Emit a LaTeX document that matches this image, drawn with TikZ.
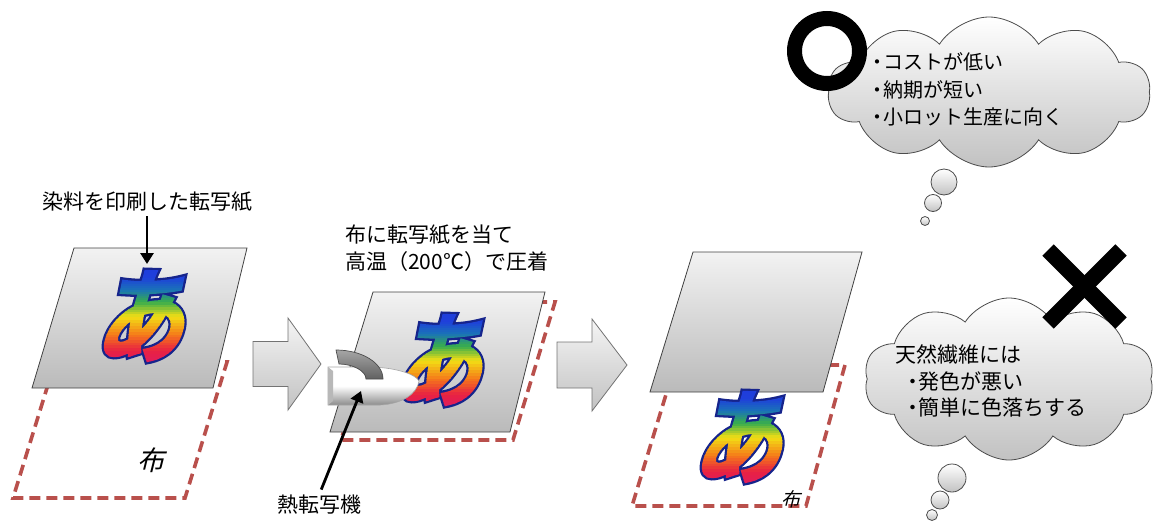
\documentclass[tikz,border=0pt]{standalone}
\usepackage{fontspec}
\setmainfont{Noto Sans CJK JP}
\newfontfamily\jp{Noto Sans CJK JP}
\newfontfamily\glyphfont{Noto Sans CJK JP}[FakeSlant=0.22, FakeStretch=0.86]
\newfontfamily\clothfont{Noto Sans CJK JP}[FakeSlant=0.25]
\usetikzlibrary{shapes.symbols, arrows.meta}

\definecolor{clothred}{RGB}{185,80,76}
\definecolor{glyphnavy}{RGB}{22,36,140}

% horizontal colour bands (PDF operators, baseline-relative, in bp) for the printed character
\newcommand\bandcode{}
\foreach \ya/\yb/\ra/\ga/\ba/\rb/\gb/\bb in {%
  -14/4/0.86/0.10/0.42/0.91/0.13/0.26,
  4/20/0.91/0.13/0.26/0.96/0.48/0.10,
  20/38/0.96/0.48/0.10/0.95/0.87/0.08,
  38/52/0.95/0.87/0.08/0.22/0.68/0.30,
  52/64/0.22/0.68/0.30/0.10/0.45/0.72,
  64/76/0.10/0.45/0.72/0.12/0.25/0.86,
  76/96/0.12/0.25/0.86/0.12/0.22/0.86}{%
  \foreach \m in {0,...,5}{%
    \pgfmathsetmacro\bandy{\ya+(\yb-\ya)*\m/6}%
    \pgfmathsetmacro\bandh{(\yb-\ya)/6+0.4}%
    \pgfmathsetmacro\bandr{\ra+(\rb-\ra)*(\m+0.5)/6}%
    \pgfmathsetmacro\bandg{\ga+(\gb-\ga)*(\m+0.5)/6}%
    \pgfmathsetmacro\bandb{\ba+(\bb-\ba)*(\m+0.5)/6}%
    \xdef\bandcode{\bandcode\space\bandr\space\bandg\space\bandb\space rg -120 \bandy\space 150 \bandh\space re f}%
  }%
}

% character filled and stroked in navy and used as clip, then painted with the bands
\newcommand\rainbowtext[1]{%
  \special{pdf:literal direct q 4.6 w 6 Tr}#1\special{pdf:content\bandcode}\special{pdf:literal direct Q}}

% narrow bullet
\newcommand\dotmark{\makebox[11pt][c]{・}}

\begin{document}
\begin{tikzpicture}[x=1pt, y=-1pt,
  paper/.style={draw=black!75, line width=0.8pt, top color=black!5, bottom color=black!27},
  cloth/.style={draw=clothred, line width=3.6pt, dash pattern=on 11pt off 6pt},
  blockarrow/.style={draw=black!55, line width=0.8pt, top color=black!4, bottom color=black!24},
  txt/.style={font=\jp\fontsize{21pt}{27pt}\selectfont, inner sep=0pt},
  cloudtxt/.style={inner sep=0pt, align=left},
  clothlabel/.style={inner sep=0pt},
  pointer/.style={line width=2.8pt, -{Triangle[length=11pt, width=13pt]}},
  printglyph/.style={inner sep=0pt, text=glyphnavy, font=\glyphfont\bfseries\fontsize{104pt}{104pt}\selectfont},
  thought/.style={cloud, cloud puffs=10, cloud puff arc=115, cloud ignores aspect, inner sep=0pt,
    draw=black!70, line width=0.8pt, top color=white, bottom color=black!24},
  bubble/.style={circle, inner sep=0pt, draw=black!70, line width=0.8pt, top color=white, bottom color=black!24},
  ironbody/.style={draw=black!35, line width=0.6pt, top color=white, bottom color=black!45, middle color=white},
  ironhandle/.style={draw=black!70, line width=0.7pt, top color=black!35, bottom color=black!62},
  crossmark/.style={line width=16pt, black}
]
\useasboundingbox (0,0) rectangle (1155,522);

% ---------- step 1: transfer paper over the cloth ----------
\draw[cloth] (55,362) -- (227,362) -- (185,498) -- (13,498) -- cycle;
\draw[paper] (74,248) -- (247,248) -- (213,388) -- (32,388) -- cycle;
\node[printglyph] (printA) at (139,316) {\rainbowtext{あ}};
\node[txt] (paperlabel) at (147,202) {染料を印刷した転写紙};
\coordinate (papertip) at (147,264);
\draw[pointer, shorten <=4pt] (paperlabel.south) -- (papertip);
\node[clothlabel, font=\clothfont\fontsize{27pt}{27pt}\selectfont] (clothA) at (151,460) {布};

% arrow 1
\draw[blockarrow] (253,341.5) -- (288,341.5) -- (288,318) -- (321,364) -- (288,410) -- (288,386.5) -- (253,386.5) -- cycle;

% ---------- step 2: pressing with the heat press ----------
\draw[cloth] (383,302) -- (555,302) -- (513,440) -- (341,440) -- cycle;
\draw[paper] (373,292) -- (545,292) -- (510,432) -- (330,432) -- cycle;
\node[printglyph] (printB) at (437,360) {\rainbowtext{あ}};
\node[txt, anchor=west, align=left] (presslabel) at (345,248.5) {布に転写紙を当て\\高温（200℃）で圧着};

% heat press: body, side face, handle
\draw[ironbody] (328,367) -- (372,367) .. controls (399,368) and (416,375) .. (419,381)
  .. controls (417,394) and (402,404) .. (380,405) -- (328,405) -- cycle;
\fill[black!28] (328,367) -- (333,371) -- (333,401) -- (328,405) -- cycle;
\draw[ironhandle] (336,350) .. controls (362,350) and (383,363) .. (383,379)
  -- (366,379) .. controls (366,371) and (353,364) .. (339,364) -- cycle;
\node[txt] (presser) at (319,505) {熱転写機};
\coordinate (presstip) at (361,391);
\draw[pointer, shorten <=6pt] (presser.north) -- (presstip);

% arrow 2
\draw[blockarrow] (557,342) -- (592,342) -- (592,319) -- (627,365) -- (592,411) -- (592,388) -- (557,388) -- cycle;

% ---------- step 3: paper lifted, print left on the cloth ----------
\draw[cloth] (675,365) -- (845,365) -- (806,506) -- (632,506) -- cycle;
\draw[paper] (693,252) -- (862,252) -- (823,392) -- (650,392) -- cycle;
\node[printglyph] (printC) at (737,437) {\rainbowtext{あ}};
\node[clothlabel, font=\clothfont\fontsize{19pt}{19pt}\selectfont] (clothC) at (791,499) {布};

% ---------- merits ----------
\node[thought, minimum width=322pt, minimum height=150pt] (goodcloud) at (989,92) {};
\node[bubble, minimum size=26pt] (goodb1) at (944,182) {};
\node[bubble, minimum size=17pt] (goodb2) at (933,203) {};
\node[bubble, minimum size=9pt] (goodb3) at (925,221) {};
\node[cloudtxt, anchor=west, font=\jp\fontsize{20pt}{27.5pt}\selectfont] (goodtext) at (872,89.5)
  {\dotmark コストが低い\\\dotmark 納期が短い\\\dotmark 小ロット生産に向く};
\node[circle, draw, line width=15pt, minimum size=65pt, inner sep=0pt] (okmark) at (827,51) {};

% ---------- demerits ----------
\node[thought, minimum width=290pt, minimum height=162pt] (badcloud) at (1009,379) {};
\node[bubble, minimum size=28pt] (badb1) at (952,478) {};
\node[bubble, minimum size=18pt] (badb2) at (940,500) {};
\node[bubble, minimum size=11pt] (badb3) at (932,515) {};
\node[cloudtxt, anchor=west, font=\jp\fontsize{21pt}{26.5pt}\selectfont] (badtext) at (895,381)
  {天然繊維には\\\hspace*{12pt}\dotmark 発色が悪い\\\hspace*{12pt}\dotmark 簡単に色落ちする};
\draw[crossmark] (1048,250) -- (1121,323);
\draw[crossmark] (1121,250) -- (1048,323);
\end{tikzpicture}
\end{document}
